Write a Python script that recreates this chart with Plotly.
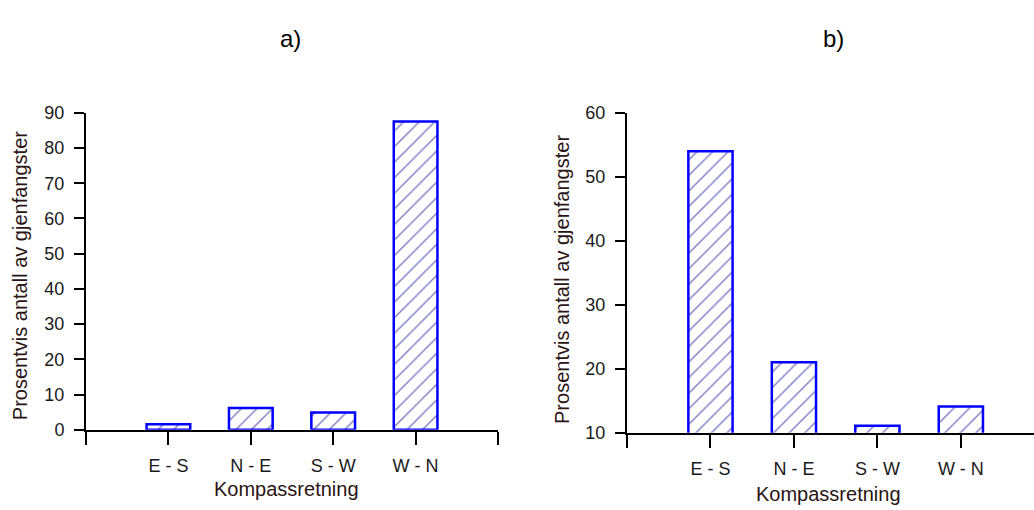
import plotly.graph_objects as go

categories = ["E - S", "N - E", "S - W", "W - N"]
values_a = [1.6, 6.2, 4.9, 87.5]
values_b = [54.0, 21.0, 11.1, 14.1]
panel_titles = ["a)", "b)"]
y_title = "Prosentvis antall av gjenfangster"
x_title = "Kompassretning"

W, H = 1034, 510
FONT = "Liberation Sans, Arial, sans-serif"
TXT = "#2a1414"

xpos = list(range(len(categories)))
bar_style = dict(
    marker=dict(
        color="white",
        line=dict(color="#0000ff", width=2.5),
        pattern=dict(shape="/", fgcolor="#000090", bgcolor="white", size=11, solidity=0.13),
    ),
    width=0.53,
    showlegend=False,
    hoverinfo="x+y",
)

fig = go.Figure()
fig.add_trace(go.Bar(x=xpos, y=values_a, xaxis="x", yaxis="y", **bar_style))
fig.add_trace(go.Bar(x=xpos, y=values_b, xaxis="x2", yaxis="y2", **bar_style))

def px_x(p):
    return p / W

def px_y(p):
    return 1 - p / H

ax_common = dict(
    showgrid=False, zeroline=False, showline=True, linecolor="black", linewidth=2,
    ticks="outside", tickwidth=2, tickcolor="black",
    tickfont=dict(family=FONT, size=18, color="#1a1a1a"),
)

tv = [-1] + xpos + [len(categories)]
tt = [""] + categories + [""]

fig.update_layout(
    width=W, height=H, autosize=False,
    margin=dict(l=0, r=0, t=0, b=0),
    paper_bgcolor="white", plot_bgcolor="white",
    font=dict(family=FONT, color=TXT),
    xaxis=dict(domain=[px_x(86), px_x(498)], range=[-1, 4], tickvals=tv, ticktext=tt,
               anchor="y", ticklen=13, ticklabelstandoff=6, **ax_common),
    yaxis=dict(domain=[px_y(437), px_y(107)], range=[0, 90], dtick=10, anchor="x",
               ticklen=10, ticklabelstandoff=6, **ax_common),
    xaxis2=dict(domain=[px_x(627), 1.0], range=[-1, 3 + (1034 - 961) / 83.3], tickvals=tv, ticktext=tt,
                anchor="y2", ticklen=13, ticklabelstandoff=6, **ax_common),
    yaxis2=dict(domain=[px_y(440), px_y(107)], range=[10, 60], dtick=10, anchor="x2",
                ticklen=10, ticklabelstandoff=6, **ax_common),
)

def note(text, x, y, size, color, angle=0):
    return dict(text=text, x=px_x(x), y=px_y(y), xref="paper", yref="paper",
                xanchor="center", yanchor="middle", textangle=angle,
                showarrow=False, font=dict(size=size, color=color, family=FONT))

ann = [
    note(panel_titles[0], 290, 30, 24, "black"),
    note(panel_titles[1], 833, 30, 24, "black"),
    note(y_title, 20, 277, 20, TXT, -90),
    note(y_title, 562, 281, 20, TXT, -90),
    note(x_title, 286, 499, 20, TXT),
    note(x_title, 828, 504, 20, TXT),
]
fig.update_layout(annotations=ann)

fig.write_html(
    "out.html",
    config={"displayModeBar": False, "responsive": False},
    post_script="document.body.style.margin='0';document.body.style.overflow='hidden';",
)
